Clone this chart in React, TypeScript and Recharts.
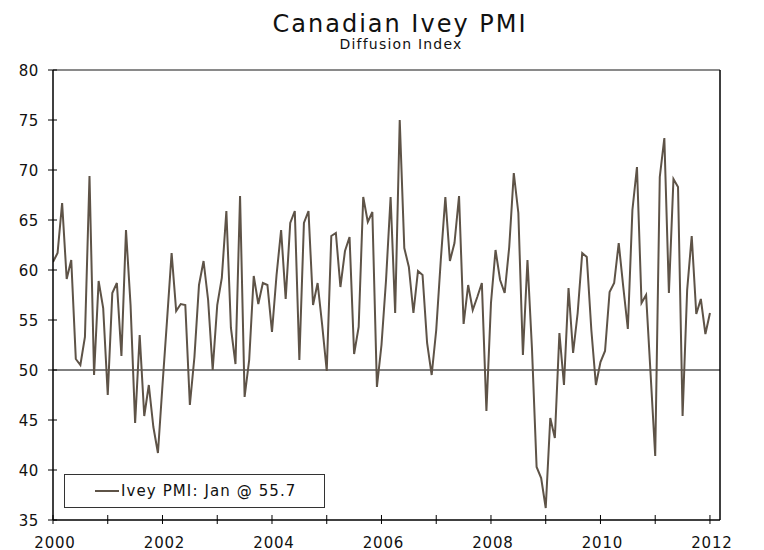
import { LineChart, Line, XAxis, YAxis, ReferenceLine, Legend, Customized } from 'recharts';

// monthly Ivey PMI, Jan 2000 .. Jan 2012
const ivey = [
  60.8, 61.7, 66.7, 59.1, 61.0, 51.1, 50.5, 53.3, 69.4, 49.5, 58.9, 56.2,
  47.5, 57.7, 58.7, 51.4, 64.0, 56.5, 44.7, 53.5, 45.4, 48.5, 44.3, 41.7,
  48.5, 55.0, 61.7, 55.9, 56.6, 56.5, 46.5, 51.3, 58.5, 60.9, 57.0, 50.0,
  56.5, 59.2, 65.9, 54.2, 50.6, 67.4, 47.3, 51.0, 59.4, 56.6, 58.7, 58.5,
  53.8, 59.5, 64.0, 57.1, 64.7, 65.9, 51.0, 64.7, 65.9, 56.5, 58.7, 54.5,
  49.9, 63.4, 63.7, 58.3, 61.9, 63.3, 51.6, 54.3, 67.3, 64.8, 65.8, 48.3,
  52.5, 59.0, 67.3, 55.7, 75.0, 62.2, 60.3, 55.7, 59.9, 59.5, 52.7, 49.5,
  54.0, 61.0, 67.3, 60.9, 62.7, 67.4, 54.6, 58.5, 56.0, 57.3, 58.7, 45.9,
  56.7, 62.0, 59.0, 57.7, 62.3, 69.7, 65.7, 51.5, 61.0, 52.0, 40.3, 39.2,
  36.2, 45.2, 43.2, 53.7, 48.5, 58.2, 51.7, 55.7, 61.7, 61.3, 54.0, 48.5,
  50.8, 51.9, 57.8, 58.7, 62.7, 58.3, 54.1, 66.0, 70.3, 56.7, 57.5, 49.5,
  41.4, 69.3, 73.2, 57.7, 69.1, 68.3, 45.4, 58.0, 63.4, 55.6, 57.1, 53.6,
  55.7,
];

const years = ['2000', '2001', '2002', '2003', '2004', '2005', '2006', '2007', '2008', '2009', '2010', '2011', '2012'];
const yTicks = [35, 40, 45, 50, 55, 60, 65, 70, 75, 80];

const data = ivey.map((v, i) => ({ month: i, value: v }));
const xTicks = years.map((_, i) => i * 12);

const FONT = '"DejaVu Sans", Verdana, sans-serif';
const LINE = '#5e5347';

function XTick({ x, y, payload }: any) {
  const label = years[Math.round(payload.value / 12)];
  const show = Number(label) % 2 === 0;
  return (
    <g>
      <line x1={x} x2={x} y1={y - 5} y2={y + 4} stroke="#000" />
      {show && (
        <text x={x + 2} y={y + 28} textAnchor="middle" fontSize={15} letterSpacing={0.8} fill="#111" fontFamily={FONT}>
          {label}
        </text>
      )}
    </g>
  );
}

function LeftTick({ x, y, payload }: any) {
  return (
    <g>
      <line x1={x - 5} x2={x + 4} y1={y} y2={y} stroke="#000" />
      <text x={x - 14} y={y + 6} textAnchor="end" fontSize={15} letterSpacing={0.6} fill="#111" fontFamily={FONT}>
        {payload.value}
      </text>
    </g>
  );
}

function RightTick({ x, y, payload }: any) {
  return (
    <g>
      <line x1={x - 7} x2={x + 5} y1={y} y2={y} stroke="#000" />
      <text x={x + 15} y={y + 6} textAnchor="start" fontSize={15} letterSpacing={0.6} fill="#111" fontFamily={FONT}>
        {payload.value}
      </text>
    </g>
  );
}

function Titles() {
  return (
    <g fontFamily={FONT} fill="#111">
      <text x={400} y={32} textAnchor="middle" fontSize={24} letterSpacing={2}>Canadian Ivey PMI</text>
      <text x={401} y={49} textAnchor="middle" fontSize={14} letterSpacing={1.2}>Diffusion Index</text>
    </g>
  );
}

function LegendBox() {
  return (
    <div
      style={{
        boxSizing: 'border-box',
        width: 261,
        height: 34,
        border: '1px solid #333',
        background: '#fff',
        display: 'flex',
        alignItems: 'center',
        paddingLeft: 30,
        fontFamily: FONT,
        fontSize: 15,
        letterSpacing: 1.1,
        color: '#111',
      }}
    >
      <span style={{ display: 'inline-block', width: 24, height: 2, background: LINE, marginRight: 2 }} />
      Ivey PMI: Jan @ 55.7
    </div>
  );
}

export default function App() {
  return (
    <div style={{ position: 'absolute', left: 0, top: 0, background: '#fff' }}>
      <LineChart width={764} height={550} data={data} margin={{ top: 70, right: 4, bottom: 0, left: 13 }}>
        <XAxis
          dataKey="month"
          type="number"
          domain={[0, 146.2]}
          allowDataOverflow
          ticks={xTicks}
          interval={0}
          tick={<XTick />}
          tickLine={false}
          tickSize={0}
          tickMargin={0}
          height={30}
          axisLine={{ stroke: '#000', strokeWidth: 1.5 }}
        />
        <YAxis
          yAxisId="left"
          domain={[35, 80]}
          ticks={yTicks}
          interval={0}
          width={40}
          tick={<LeftTick />}
          tickLine={false}
          tickSize={0}
          tickMargin={0}
          axisLine={{ stroke: '#000', strokeWidth: 1.5 }}
        />
        <YAxis
          yAxisId="right"
          orientation="right"
          domain={[35, 80]}
          ticks={yTicks}
          interval={0}
          width={40}
          tick={<RightTick />}
          tickLine={false}
          tickSize={0}
          tickMargin={0}
          axisLine={{ stroke: '#000', strokeWidth: 1.5 }}
        />
        <ReferenceLine yAxisId="left" y={80} stroke="#8a8a8a" strokeWidth={2} />
        <ReferenceLine yAxisId="left" y={50} stroke="#000" strokeWidth={1} />
        <Line
          yAxisId="left"
          type="linear"
          dataKey="value"
          stroke={LINE}
          strokeWidth={2}
          dot={false}
          isAnimationActive={false}
        />
        <Legend
          layout="horizontal"
          verticalAlign="middle"
          align="center"
          wrapperStyle={{ left: 64, top: 474, width: 261, height: 34 }}
          content={() => <LegendBox />}
        />
        <Customized component={Titles} />
      </LineChart>
    </div>
  );
}
